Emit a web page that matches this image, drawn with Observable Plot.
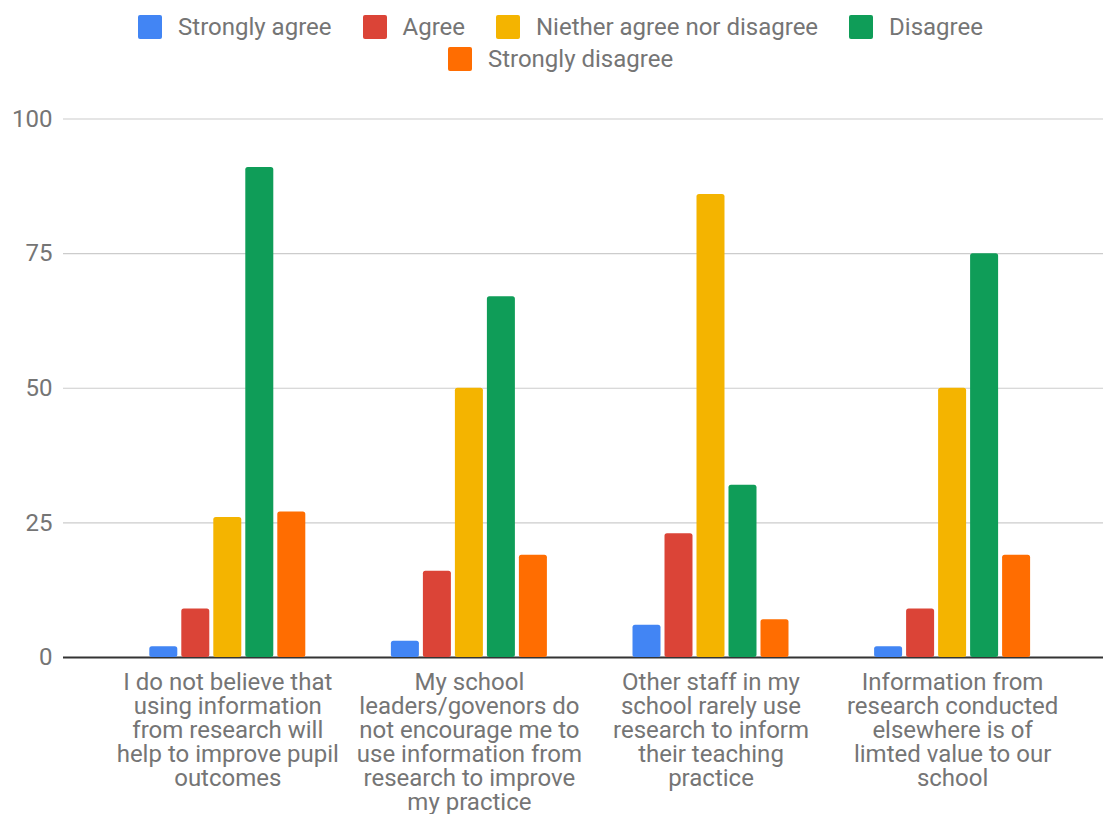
<!DOCTYPE html>
<html>
<head>
<meta charset="utf-8">
<script src="https://cdn.jsdelivr.net/npm/d3@7"></script>
<script src="https://cdn.jsdelivr.net/npm/@observablehq/plot@0.6"></script>
<style>
  html, body { margin: 0; padding: 0; background: #fff; }
  body { width: 1103px; font-family: Roboto, sans-serif; }
  #legend {
    box-sizing: border-box;
    height: 80px;
    padding: 11px 0 0 18px;
    display: flex;
    flex-wrap: wrap;
    justify-content: center;
    align-content: flex-start;
    column-gap: 31px;
  }
  .item { display: flex; align-items: center; height: 32px; }
  .swatch { width: 24px; height: 24px; border-radius: 2px; margin-right: 16px; }
  .name { font-size: 24px; color: #757575; line-height: 32px; white-space: nowrap; }
  #chart { position: relative; width: 1103px; height: 734px; }
  #chart svg { position: absolute; left: 0; top: 0; display: block; }
</style>
</head>
<body>
<div id="legend"></div>
<div id="chart"></div>
<script>
// Survey statements (one group of bars each)
const categories = [
  "I do not believe that using information from research will help to improve pupil outcomes",
  "My school leaders/govenors do not encourage me to use information from research to improve my practice",
  "Other staff in my school rarely use research to inform their teaching practice",
  "Information from research conducted elsewhere is of limted value to our school"
];
// Axis labels for the statements, broken into lines
const categoryLabels = [
  "I do not believe that\nusing information\nfrom research will\nhelp to improve pupil\noutcomes",
  "My school\nleaders/govenors do\nnot encourage me to\nuse information from\nresearch to improve\nmy practice",
  "Other staff in my\nschool rarely use\nresearch to inform\ntheir teaching\npractice",
  "Information from\nresearch conducted\nelsewhere is of\nlimted value to our\nschool"
];
const responses = ["Strongly agree", "Agree", "Niether agree nor disagree", "Disagree", "Strongly disagree"];
const colors = ["#4285F4", "#DB4437", "#F4B400", "#0F9D58", "#FF6D01"];

// Number of respondents per statement
const stronglyAgree    = [2, 3, 6, 2];
const agree            = [9, 16, 23, 9];
const neither          = [26, 50, 86, 50];
const disagree         = [91, 67, 32, 75];
const stronglyDisagree = [27, 19, 7, 19];

const yTicks = [0, 25, 50, 75, 100];

const seriesValues = [stronglyAgree, agree, neither, disagree, stronglyDisagree];
const rows = [];
categories.forEach((c, i) => {
  responses.forEach((r, j) => rows.push({statement: c, response: r, value: seriesValues[j][i]}));
});

// Legend
const legend = document.getElementById("legend");
responses.forEach((r, j) => {
  const item = document.createElement("div");
  item.className = "item";
  const sw = document.createElement("span");
  sw.className = "swatch";
  sw.style.background = colors[j];
  const name = document.createElement("span");
  name.className = "name";
  name.textContent = r;
  item.append(sw, name);
  legend.append(item);
});

const labelOf = new Map(categories.map((c, i) => [c, categoryLabels[i]]));

// Shared frame for both layers
const frame = {
  width: 1103,
  height: 734,
  marginLeft: 63,
  marginRight: 0,
  marginTop: 38.5,
  marginBottom: 157
};
const yScale = {domain: [0, 100], axis: null};

// Back layer: gridlines, baseline and value axis spanning the whole frame
const base = Plot.plot({
  ...frame,
  style: {fontFamily: "Roboto, sans-serif", background: "transparent"},
  y: yScale,
  marks: [
    Plot.ruleY(yTicks.filter(d => d > 0), {stroke: "#cccccc", strokeWidth: 1.2}),
    Plot.ruleY([0], {stroke: "#333333", strokeWidth: 2}),
    Plot.text(yTicks, {
      y: d => d, text: d => String(d), frameAnchor: "left", textAnchor: "end",
      dx: -11, fill: "#757575", fontSize: 24
    })
  ]
});

// Front layer: grouped bars, one facet per statement
const bars = Plot.plot({
  ...frame,
  style: {fontFamily: "Roboto, sans-serif", background: "transparent"},
  fx: {domain: categories, paddingInner: 0, paddingOuter: 0.1523, align: 0.591, round: false},
  x: {domain: responses, paddingInner: 0.125, paddingOuter: 1.3375, round: false, axis: null},
  y: yScale,
  color: {domain: responses, range: colors},
  marks: [
    Plot.barY(rows, {fx: "statement", x: "response", y: "value", fill: "response", inset: 0, rx: 2.5}),
    Plot.axisFx({
      anchor: "bottom", tickSize: 0, tickPadding: 15, fontSize: 24, lineHeight: 1,
      fill: "#757575", label: null, tickFormat: d => labelOf.get(d)
    })
  ]
});

const chart = document.getElementById("chart");
chart.append(base, bars);
</script>
</body>
</html>
